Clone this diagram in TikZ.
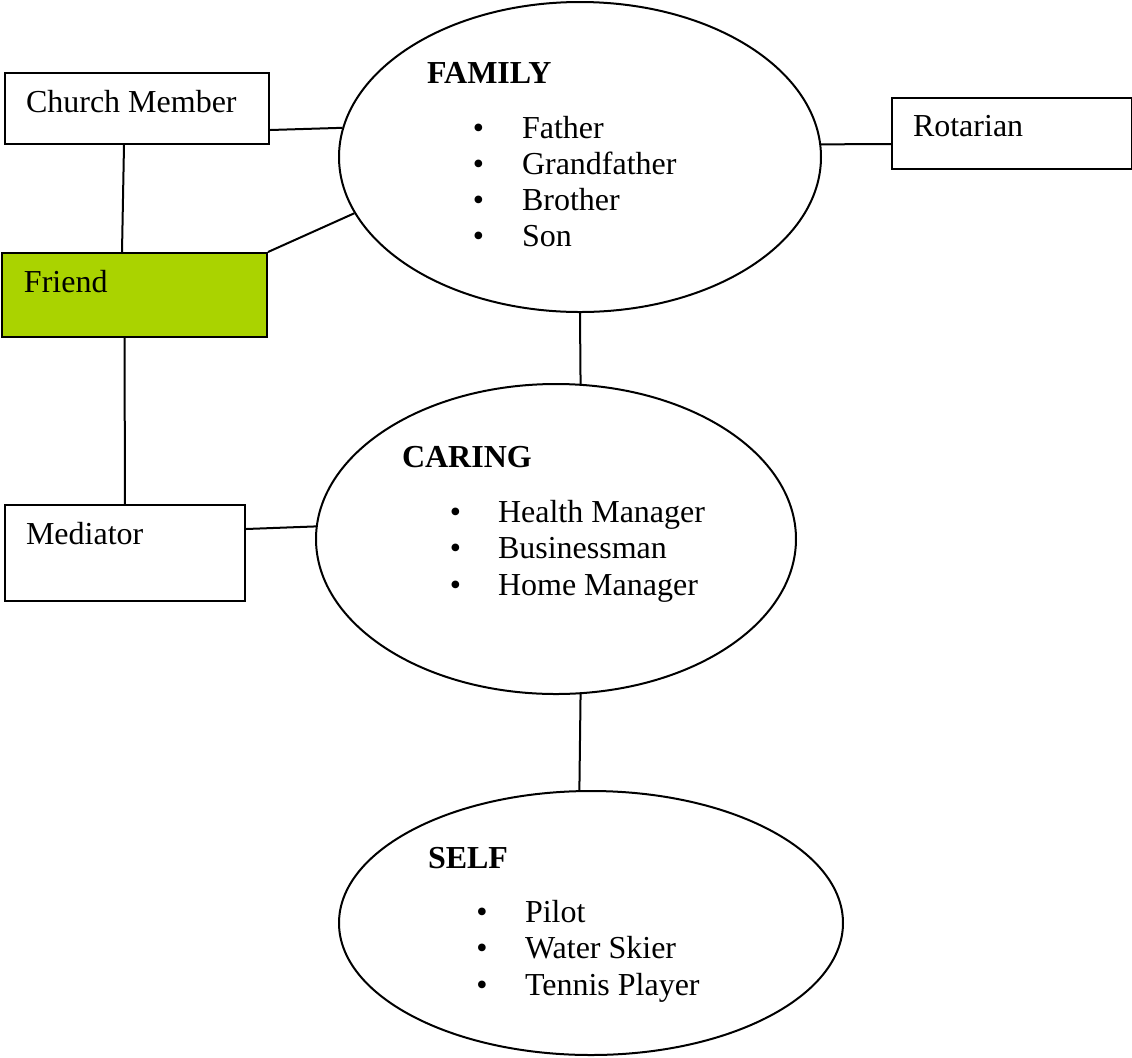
\documentclass[tikz,border=0pt]{standalone}
\usepackage{fontspec}
\setmainfont{Liberation Serif}
\definecolor{friendgreen}{RGB}{170,211,0}
\newcommand{\bodysize}{\fontsize{16}{18}\selectfont}
\tikzset{
  box/.style={draw, rectangle, inner sep=0pt, anchor=north west},
  blob/.style={draw, ellipse, inner sep=0pt},
  txt/.style={anchor=base west, inner sep=0pt},
  head/.style={anchor=base west, inner sep=0pt, font=\bodysize\bfseries},
  dot/.style={anchor=base, inner sep=0pt}
}
\usetikzlibrary{shapes.geometric}
\begin{document}
\begin{tikzpicture}[x=0.5pt, y=-0.5pt, line width=1pt, font=\bodysize]
\useasboundingbox (0,0) rectangle (1132,1057);

% boxes
\node[box, minimum width=132pt, minimum height=35.5pt] (church) at (4,72) {};
\node[box, minimum width=120pt, minimum height=35.5pt] (rotarian) at (891,97) {};
\node[box, fill=friendgreen, minimum width=132.5pt, minimum height=42pt] (friend) at (1,252) {};
\node[box, minimum width=120pt, minimum height=48pt] (mediator) at (4,504) {};

\node[txt] (churchtxt) at (25,112) {Church Member};
\node[txt] (rotariantxt) at (912,136) {Rotarian};
\node[txt] (friendtxt) at (23,292) {Friend};
\node[txt] (mediatortxt) at (25,544) {Mediator};

% ellipses
\node[blob, minimum width=241pt, minimum height=155pt] (family) at (580,157) {};
\node[blob, minimum width=240pt, minimum height=155pt] (caring) at (556,539) {};
\node[blob, minimum width=252pt, minimum height=132pt] (self) at (591,923) {};

\node[head] (familyhead) at (426,83) {FAMILY};
\foreach \w [count=\i] in {Father, Grandfather, Brother, Son} {
  \node[dot] (familydot\i) at (478.5,{138+36.3*(\i-1)}) {•};
  \node[txt] (familyitem\i) at (521,{138+36.3*(\i-1)}) {\w};
}

\node[head] (caringhead) at (401,467) {CARING};
\foreach \w [count=\i] in {Health Manager, Businessman, Home Manager} {
  \node[dot] (caringdot\i) at (455.5,{522+36.5*(\i-1)}) {•};
  \node[txt] (caringitem\i) at (497,{522+36.5*(\i-1)}) {\w};
}

\node[head] (selfhead) at (427,868) {SELF};
\foreach \w [count=\i] in {Pilot, Water Skier, Tennis Player} {
  \node[dot] (selfdot\i) at (482,{922+36.5*(\i-1)}) {•};
  \node[txt] (selfitem\i) at (524,{922+36.5*(\i-1)}) {\w};
}

% connectors
\draw ([yshift=-10.75pt]church.east) -- (family.173.5);
\draw ([xshift=-6.5pt]church.south) -- ([xshift=-6.25pt]friend.north);
\draw (friend.north east) -- (family.194);
\draw ([yshift=-5.25pt]rotarian.west) -- (family.3.5);
\draw (family.south) -- (caring.81);
\draw ([xshift=-5pt]friend.south) -- (mediator.north);
\draw ([yshift=12pt]mediator.east) -- (caring.177.4);
\draw (caring.279) -- (self.95);
\end{tikzpicture}
\end{document}
